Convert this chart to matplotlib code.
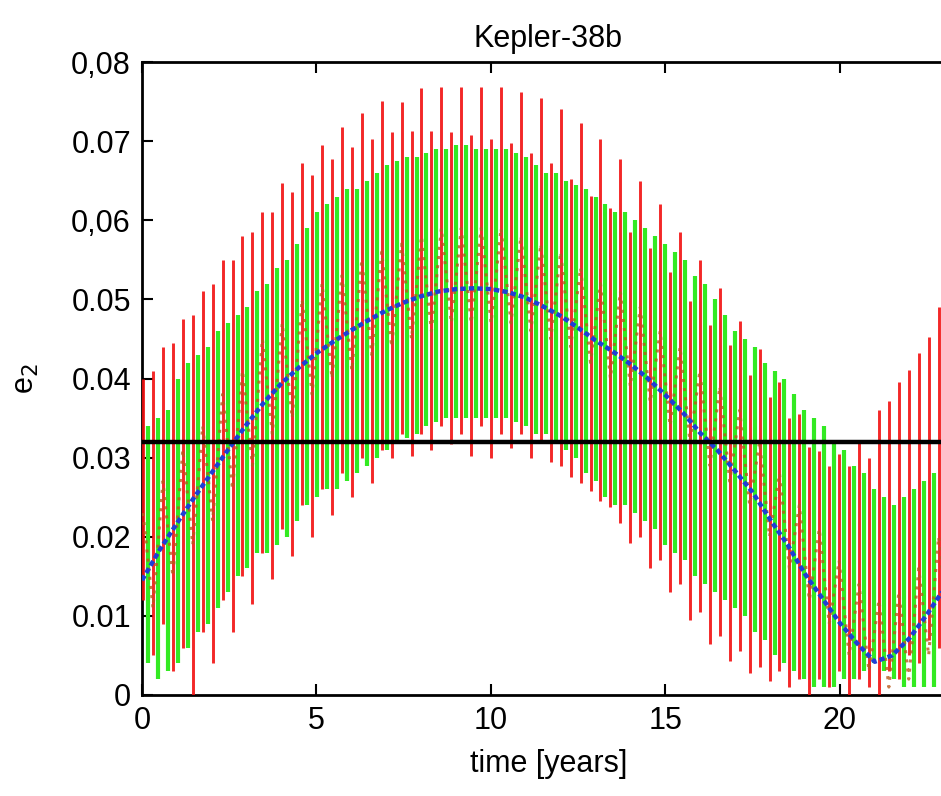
import matplotlib.pyplot as plt
import numpy as np

plt.rcParams['font.family'] = ['Liberation Sans', 'DejaVu Sans']

# e2 values, one value per short-period spike
red_hi = [0.040, 0.041, 0.044, 0.0445, 0.0475, 0.048, 0.051, 0.052, 0.055, 0.055,
          0.058, 0.0585, 0.061, 0.061, 0.0647, 0.0636, 0.0672,
          0.0657, 0.0695, 0.0677, 0.0718, 0.0693, 0.0736, 0.0703, 0.0751, 0.0711,
          0.0749, 0.0713, 0.0767, 0.0713, 0.0769, 0.0711, 0.0769,
          0.0708, 0.0769, 0.0703, 0.0769, 0.0698, 0.0762, 0.0685, 0.0754, 0.0672,
          0.0741, 0.0652, 0.0723, 0.0631, 0.0703, 0.0616, 0.0677,
          0.0585, 0.0649, 0.0565, 0.0621, 0.0534, 0.0585, 0.0498, 0.0550, 0.0468,
          0.0514, 0.0442, 0.0473, 0.0404, 0.0437, 0.0376, 0.0396,
          0.0350, 0.0355, 0.0314, 0.0309, 0.0289, 0.0304, 0.0289, 0.0319, 0.0299,
          0.0360, 0.0371, 0.0396, 0.0411, 0.0432, 0.0452, 0.0490]
red_lo = [0.012, 0.005, 0.009, 0.003, 0.006, 0.000, 0.008, 0.004, 0.012, 0.008,
          0.015, 0.0115, 0.018, 0.0146, 0.021, 0.0176, 0.024, 0.020, 0.026, 0.0227,
          0.028, 0.025, 0.030, 0.0268, 0.031, 0.0299, 0.033, 0.0302, 0.033, 0.031,
          0.034, 0.0317, 0.033, 0.0302, 0.034, 0.030, 0.033, 0.0312, 0.033, 0.030,
          0.032, 0.0294, 0.0289, 0.0276, 0.0268, 0.0258, 0.0245, 0.0238, 0.0217, 0.0192,
          0.020, 0.0161, 0.017, 0.013, 0.014, 0.0095, 0.0105, 0.0064, 0.0075, 0.0043,
          0.0055, 0.0028, 0.0035, 0.0018, 0.003, 0.001, 0.002, 0.000, 0.002, 0.001,
          0.003, 0.000, 0.002, 0.001, 0.000, 0.003, 0.002, 0.005, 0.004, 0.007,
          0.006]
green_hi = [0.034, 0.035, 0.036, 0.040, 0.042, 0.043, 0.044, 0.046, 0.047, 0.048,
            0.049, 0.051, 0.052, 0.054, 0.055, 0.057, 0.059, 0.061, 0.062, 0.063,
            0.064, 0.064, 0.065, 0.066, 0.067, 0.0675, 0.068, 0.068, 0.0685, 0.069,
            0.069, 0.0695, 0.0695, 0.069, 0.069, 0.069, 0.069, 0.0685, 0.068, 0.067,
            0.066, 0.066, 0.065, 0.0645, 0.064, 0.063, 0.062, 0.061, 0.061, 0.060,
            0.059, 0.058, 0.057, 0.056, 0.055, 0.053, 0.052, 0.050, 0.048, 0.046,
            0.045, 0.044, 0.042, 0.041, 0.040, 0.038, 0.036, 0.035, 0.034, 0.032,
            0.031, 0.029, 0.028, 0.026, 0.025, 0.024, 0.025, 0.026, 0.027, 0.028,
            0.029]
green_lo = [0.004, 0.002, 0.003, 0.004, 0.006, 0.008, 0.009, 0.011, 0.013, 0.015,
            0.016, 0.018, 0.018, 0.019, 0.020, 0.022, 0.024, 0.025, 0.026, 0.026,
            0.027, 0.028, 0.029, 0.030, 0.031, 0.032, 0.0325, 0.033, 0.034, 0.0345,
            0.035, 0.035, 0.035, 0.035, 0.035, 0.035, 0.035, 0.0345, 0.034, 0.033,
            0.033, 0.032, 0.031, 0.030, 0.028, 0.027, 0.025, 0.024, 0.024, 0.023,
            0.022, 0.021, 0.019, 0.018, 0.017, 0.015, 0.014, 0.013, 0.012, 0.011,
            0.010, 0.008, 0.007, 0.005, 0.004, 0.003, 0.002, 0.001, 0.001, 0.001,
            0.002, 0.002, 0.003, 0.004, 0.003, 0.002, 0.001, 0.001, 0.001, 0.001,
            0.001]
inner_hi = [0.023, 0.027, 0.031, 0.034, 0.038, 0.041, 0.045, 0.047, 0.050, 0.052,
            0.053, 0.055, 0.056, 0.057, 0.058, 0.059, 0.059, 0.059, 0.059, 0.058,
            0.057, 0.056, 0.054, 0.052, 0.051, 0.049, 0.046, 0.044, 0.041, 0.039,
            0.036, 0.032, 0.028, 0.024, 0.021, 0.017, 0.014, 0.012, 0.013, 0.016,
            0.020]
inner_lo = [0.011, 0.015, 0.019, 0.022, 0.026, 0.029, 0.033, 0.035, 0.038, 0.040,
            0.041, 0.043, 0.044, 0.045, 0.046, 0.047, 0.047, 0.047, 0.047, 0.046,
            0.045, 0.044, 0.042, 0.040, 0.039, 0.037, 0.034, 0.032, 0.029, 0.027,
            0.024, 0.020, 0.016, 0.012, 0.009, 0.005, 0.003, 0.001, 0.002, 0.005,
            0.008]

# secular solution (blue dotted)
sec_t = [0, 0.5, 1, 1.5, 2, 2.5, 3, 3.5, 4, 4.5, 5, 5.5, 6, 6.5, 7, 7.5, 8, 8.5,
         9, 9.5, 10, 10.5, 11, 11.5, 12, 12.5, 13, 13.5, 14, 14.5, 15, 15.5, 16,
         16.5, 17, 17.5, 18, 18.5, 19, 19.5, 20, 20.5, 21, 21.5, 22, 22.5, 23]
sec_e = [0.0145, 0.0183, 0.0217, 0.0250, 0.0281, 0.0312, 0.0342, 0.0370, 0.0394,
         0.0414, 0.0432, 0.0447, 0.0461, 0.0474, 0.0486, 0.0496, 0.0504, 0.0510,
         0.0513, 0.0514, 0.0513, 0.0509, 0.0502, 0.0491, 0.0479, 0.0464, 0.0448,
         0.0434, 0.0418, 0.0400, 0.0379, 0.0357, 0.0331, 0.0309, 0.0283, 0.0256,
         0.0222, 0.0190, 0.0153, 0.0122, 0.0091, 0.0065, 0.0042, 0.0050, 0.0072,
         0.0102, 0.0135]
e_obs = 0.032

xticks = [0, 5, 10, 15, 20]
yticks = [0, 0.01, 0.02, 0.03, 0.04, 0.05, 0.06, 0.07, 0.08]
ytick_labels = ['0', '0.01', '0.02', '0.03', '0.04', '0.05', '0,06', '0.07', '0,08']

step = 0.285
t_spike = 0.03 + step * np.arange(len(red_hi))
t_inner = 0.03 + 2 * step * np.arange(len(inner_hi))

fig = plt.figure(figsize=(9.41, 7.96), dpi=100)
ax = fig.add_axes([142 / 941, 101 / 796, 813 / 941, 633 / 796])

# short-period oscillations, one vertical stroke per spike
ax.vlines(t_spike + step / 2, green_lo, green_hi, color='#33ea22', lw=3.0, zorder=2)
ax.vlines(t_spike, red_lo, red_hi, color='#f21010', lw=2.1, alpha=0.9, zorder=3)

# brownish dotted inner band
tt = np.empty(2 * len(inner_hi))
ee = np.empty(2 * len(inner_hi))
tt[0::2] = t_inner
tt[1::2] = t_inner + step
ee[0::2] = inner_hi
ee[1::2] = inner_lo
ax.plot(tt, ee, color='#b85a1c', lw=2.2, ls=(0, (1, 2)), alpha=0.8, zorder=4)

ax.plot(sec_t, sec_e, color='#1f3fd6', lw=3.2, ls=(0, (1.2, 0.7)), zorder=5)
ax.axhline(e_obs, color='black', lw=3.2, zorder=6)

ax.set_xlim(0, 23.3)
ax.set_ylim(0, 0.08)
ax.set_xticks(xticks)
ax.set_yticks(yticks)
ax.set_yticklabels(ytick_labels)
ax.tick_params(direction='in', length=8, width=1.5, top=True, right=False,
               labelsize=22, pad=8)
for s in ax.spines.values():
    s.set_linewidth(2)

ax.set_title('Kepler-38b', fontsize=22, pad=11)
ax.set_xlabel('time [years]', fontsize=22, labelpad=9)
ax.set_ylabel(r'e$_2$', fontsize=22, labelpad=22)

fig.savefig('out.png', dpi=100)
